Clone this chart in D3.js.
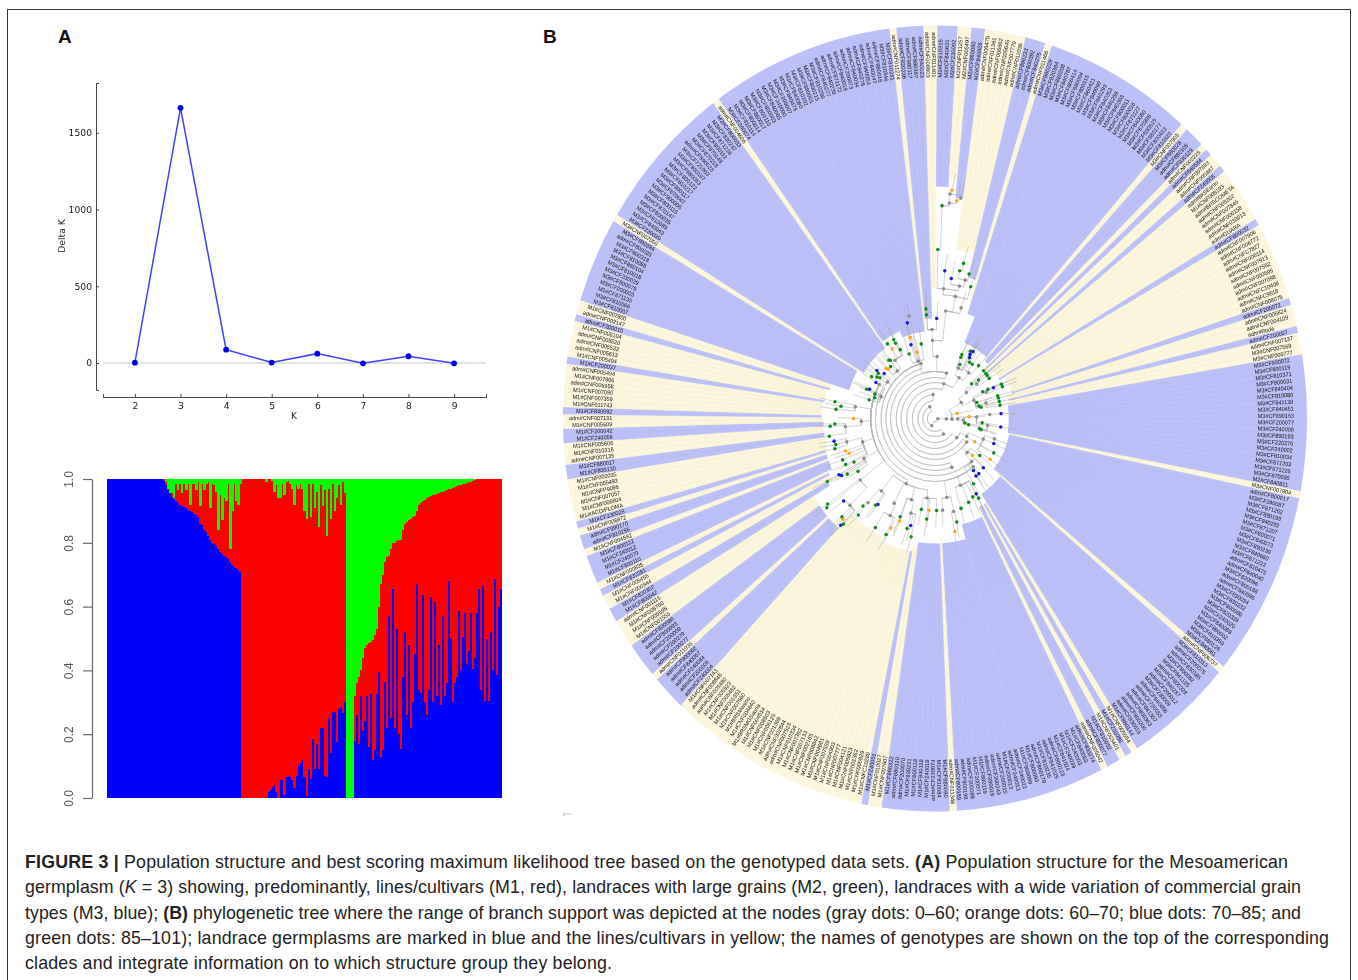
<!DOCTYPE html>
<html>
<head>
<meta charset="utf-8">
<title>Figure 3</title>
<script src="https://cdn.jsdelivr.net/npm/d3@7"></script>
<style>
	html, body { margin: 0; padding: 0; background: #fff; }
	svg { display: block; }
</style>
</head>
<body>
<svg id="fig" width="1358" height="980"></svg>
<script>
// panel A, delta K
var kValues = [2, 3, 4, 5, 6, 7, 8, 9];
var deltaK = [2, 1663, 87, 3, 61, -2, 44, -2];

// panel A, structure plot. one entry per column, top of blue and top of red
var blueTopA = [1,1,1,1,1,1,1,1,1,1,1,1,1,1,1,1,1,1,1,1,1,1,1,1,1,1,1,1,
	.995,.98,.965,.955,.945,.938,.93,.925,.92,.915,.913,.908,.903,.9,.895,.89,.888,.88,.86,.855,
	.84,.835,.82,.81,.8,.795,.79,.78,.77,.765,.76,.755,.75,.74,.73,.725,.72,.715,.71];
var redTopA = [1,1,1,1,1,1,1,1,1,1,1,1,1,1,1,1,1,1,1,1,1,1,1,1,1,1,1,1,
	1,.99,.97,.955,.955,.94,.985,.965,.985,.955,.985,.965,.985,.92,.985,.985,.965,.99,.915,.985,
	.965,.985,.99,.91,.985,.98,.96,.84,.95,.87,.94,.93,.985,.78,.9,.985,.93,.92,.985];
var blueTopB = [0,0,0,0,0,0,0,0,0,0,0,0,0,
	.02,.025,.035,.04,.02,0,.055,.055,.01,.065,.07,.065,.055,.03,.07,.1,.11,.12,.065,.005,
	.09,.06,.185,.09,.17,.09,.22,.22,.07,.065,.25,.14,.27,.27,.175,.28,.285,.265,.3];
var redTopB = [1,1,1,1,1,1,1,1,1,1,1,1,
	.99,1,1,.995,.96,.98,.94,.94,.985,.95,.99,.995,.985,.97,.92,.98,.97,.985,.97,.9,
	.875,.985,.88,.985,.91,.96,.85,.98,.915,.965,.82,.97,.875,.985,.9,.94,.98,.92,.99,.955];
var blueTopC = [0, 0, 0, 0];
var redTopC = [0, 0, 0, 0];
var blueTopD = [.18,.26,.17,.32,.21,.24,.32,.16,.325,.12,.15,.325,.395,.13,.15,.365,.22,.57,.25,.655,
	.22,.53,.2,.155,.38,.52,.26,.48,.22,.3,.45,.67,.34,.33,.635,.3,.26,.34,.63,.3,
	.615,.32,.48,.29,.57,.32,.36,.68,.5,.3,.36,.38,.585,.4,.505,.58,.42,.46,.58,.405,
	.44,.58,.655,.34,.665,.305,.5,.305,.52,.4,.688,.385,.6,.655];
var redTopD = [.32,.36,.38,.4,.44,.47,.48,.485,.49,.495,.51,.53,.6,.67,.7,.74,.755,.76,.78,.8,
	.8,.805,.81,.81,.84,.86,.865,.87,.875,.88,.885,.9,.92,.925,.93,.935,.94,.945,.948,.95,
	.95,.952,.955,.958,.96,.962,.965,.968,.97,.972,.975,.977,.98,.982,.984,.985,.987,.99,.992,.994,
	.997,.999,1,1,1,1,1,1,1,1,1,1,1,1];
var structureTicks = [0, .2, .4, .6, .8, 1];

// panel B, clockwise from the top. Y = lines/cultivars, B = landraces
var cladeType = ["Y","B","Y","B","Y","B","Y","B","Y","B","B","Y","B","Y","B","Y","B","Y","B","Y","B","Y","B","Y","B","Y","B","Y",
	"B","Y","B","Y","B","Y","B","B","Y","B","Y","B","Y","Y","B","Y","B","Y","B","Y","B","Y","B","Y","B","Y","B","Y","B","Y","B","Y","B",
	"Y","B","Y","B","Y","B","Y","B","Y","B","B"];
var cladeInner = [90,100,130,232,240,222,170,145,122,110,82,78,78,72,72,72,72,78,78,85,85,80,80,78,78,80,80,85,
	90,100,100,100,100,100,110,125,120,125,130,135,135,130,150,150,150,150,130,125,125,125,120,120,120,120,120,118,118,118,118,118,120,
	120,118,118,115,115,95,90,88,95,95,88];
var cladeNames = [
	["adm#CNF011274"],
	["adm#CF820236","adm#CF980117","adm#CF880367","adm#CF840023"],
	["adm#CNF008803","adm#CNF011401"],
	["M2#CF810315","M2#CF840631","M2#CF230092"],
	["M2#CNF011257","M2#CNF005497"],
	["M2#CF860060","M2#CF840926"],
	["adm#CNF006475","adm#CNF011361","adm#CNF006662","adm#CNF005645","adm#CNF007770","adm#CNF011036"],
	["adm#CF890233","adm#CF800392","adm#CF840275"],
	["adm#CNF011466"],
	["M3#CF860229","M3#CF820384","M3#CF860208","M3#CF840787"],
	["M3#CF800414","M3#CF880004","M3#CF800315","M3#CF860421","M3#CF840060","M3#CF840293","M3#CF840353","M3#CF840259","M3#CF840363","M3#CF800011","M3#CF800016","M3#CF871127","M3#CF840080","M3#CF870398","M3#CF830515","M3#CF880177","M3#CF800423","M3#CF810320"],
	["M3#CNF007905"],
	["M3#CF880028","adm#CF880105","adm#CF930129"],
	["adm#CNF003225"],
	["adm#CF840584"],
	["adm#CNF007893","adm#CNF005887"],
	["adm#CF240005"],
	["adm#BkSEtinto","M1#CNF008193","adm#BRSCOMETA","adm#CNF008202","adm#CNF007845","adm#CNF000158","adm#CNF010013","adm#GUARA"],
	["adm#CF800032"],
	["adm#CNF007906","adm#CNF006772","adm#CNFC7827","adm#CNF006114","adm#CNF007913","adm#CNF007552","adm#CNF000595","adm#CNF007098","adm#CNFC10408","adm#CNFC9518","adm#CNF008075"],
	["adm#CF200072"],
	["adm#CNF005824","adm#CNF004109","adm#Roda"],
	["adm#CF200007"],
	["adm#CNF007137","M3#CNF007569","M3#CNF006777"],
	["M3#CF930072","M3#CF800119","M3#CF810371","M3#CF800031","M3#CF840404","M3#CF810080","M3#CF841138","M3#CF840451","M3#CF890163","M3#CF200077","M3#CF240008","M3#CF890193","M3#CF220276","M3#CF240002","M3#CF810034","M3#CF871203","M3#CF871226","M3#CF870030","M2#CF840811"],
	["M3#CNF007904"],
	["adm#CF800017","M3#CF240087","M3#CF871262","M3#CF890199","M3#CF840292","M3#CF871207","M3#CF800071","M3#CF840073","M3#CF890239","M3#CF840680","M3#CF871222","adm#CF810472","adm#CF840040","M3#CF820096","adm#CF800188","adm#CF840595","M3#CF830034","M3#CF830232","M3#CF800086","M3#CF820328","M3#CF240020","M3#CF840089","M3#CF880002","M3#CF810350","M3#CF880126","M3#CF840061"],
	["adm#CNF006737"],
	["M3#CF810313","adm#CF200075","adm#CF830185","M3#CF800082","M3#CF841125","adm#CF800328","M3#CF840287","adm#CF200012","M3#CF230009","adm#CF840656","adm#CF720053","adm#CF841307","adm#CF800363","adm#CF800200","adm#CF830015","M1#CF880144"],
	["M1#CNF005054"],
	["M1#CF200086"],
	["M1#CNF003401"],
	["M1#CF810052","adm#CF800077"],
	["adm#CNF005042"],
	["adm#CF800274","M1#CF840063","M1#CF240003","M1#CF240039","M1#CF841024","adm#CF800123","adm#CF841025","M1#CF810235","adm#CF860179","M1#CF800093","M1#CF900099"],
	["adm#CF240022","adm#CF240013","M1#CF200013","adm#CF200015","adm#CF200243","adm#CF280019","M1#CF880119","M1#CF200071","adm#CF200089","adm#CF800198","adm#CF800159"],
	["adm#CNF011348"],
	["M1#CF880090","M1#CF810084","adm#CF230074","M1#CF240018","M1#CF840118","M1#CF800118","M1#CF830231","adm#CF200070","adm#CF880110","M1#CF860322"],
	["M1#CNF007607","M1#CNF010027"],
	["M1#CF240051"],
	["M1#CNFC10280","M1#CNF005929","M1#CNF001362","M1#CNF005923","M1#CNF004121","M1#CNF007777","M1#CNF004903","M1#CNF007559","M1#CNF004681","M1#CNF008842","M1#CNF002165","M1#CNF007133","M1#CNF007392"],
	["M1#CNF010334","adm#CNF007523","adm#CNF002844","M1#CNF001369","M1#CNF006125","M1#CNF008503","M1#CNF004514","M1#BRSMGSauna","M1#CNF004640","M1#BRSMesino","M1#CNF007560","M1#CNF001351","M1#CNF005482","M1#CNF005823","adm#CNF005480","adm#CNF008845","M1#CNF007143"],
	["adm#CF240004","adm#CF200006","adm#CF240084","adm#CF840067","adm#CF800062"],
	["adm#CNF011035"],
	["adm#CF200277","adm#CF200279","adm#CF200009","adm#CF800093","adm#CF800088"],
	["M1#CNF001555","M1#CNF005598","M1#CNF008760","adm#CNF001115"],
	["M1#CF800042","M1#CF820302"],
	["M1#CNF000944","M1#CNF005455"],
	["M1#CF830281"],
	["M1#CNF000835"],
	["M1#CF800110","M1#CF240070","M1#CF240012","M1#CF800112"],
	["M1#CNF004592"],
	["adm#CF810256","adm#CF990170"],
	["M1#CNF006872"],
	["M1#CF230028"],
	["M1#IACDIPLOMA","M1#CNF006604","M1#CNF007057","M1#CNFP9096","M1#CNF005493","M1#CNF002035"],
	["M1#CF800130","M1#CF880017"],
	["adm#CNF007135","M1#CNF010316","M1#CNF005606"],
	["M1#CF240056","M1#CF200042"],
	["M1#CNF005609","adm#CNF007131"],
	["M1#CF840592"],
	["M1#CNF011743","M1#CNF007359","M1#CNF007090","adm#CNF006958","M1#CNF007866","adm#CNF005494"],
	["M1#CF200037"],
	["M1#CNF005494","adm#CNF005613","adm#CNF005533","adm#CNF005520","M1#CNF008104"],
	["adm#CF200010"],
	["adm#CNF002147","M1#CNF007800"],
	["M3#CF810007","M3#CF810066","M1#CF871135","M3#CF200003","M3#CF800079","M3#CF230029","M3#CF810018","M3#CF860104","M3#CF810088","M3#CF800318","adm#CF800025","M3#CF890386"],
	["M3#CNF007050"],
	["M3#CF230030","M3#CF840043","M3#CF810089","M3#CF800035","M3#CF870147","M3#CF800115","M3#CF800006","M3#CF870047","M3#CF800117","M3#CF810217","M3#CF800122","M3#CF880063","M3#CF800197","M3#CF721003","adm#CF890023","M3#CF870218","M3#CF870148","M3#CF800112","M3#CF871226","M3#CF830237","M3#CF800033"],
	["adm#CNF004606"],
	["M3#CF240074","M3#CF810114","M3#CF800014","M3#CF860017","M3#CF800110","M3#CF800003","M3#CF840065","M3#CF240090","M3#CF200007","M3#CF840476","M3#CF840080","M3#CF810102"],
	["M3#CF880001","M3#CF800215","M3#CF810256","adm#CF840277","adm#CF840239","adm#CF871172","adm#CF840019","adm#CF200073","adm#CF840034","adm#CF840278","adm#CF840053","adm#CF840047","adm#CF880016","M3#CF810346","M3#CF810241"]
];

// tree nodes: id, parent, angle (deg, may run past 360), radius, support (k gray, o orange, b blue, g green)
var treeNodes = [
	["s0","",95,3,"k"],["s1","s0",205,8,"k"],["s2","s1",335,13,"k"],["s3","s2",150,18,"k"],["s4","s3",355,24,"k"],
	["s5","s4",130,30,"k"],["s6","s5",375,36,"k"],["s7","s6",125,41,"k"],["s8","s7",375,47,"k"],["s9","s8",160,52,"k"],
	["s10","s9",345,57,"k"],["s11","s10",140,63,"k"],["s12","s11",300,68,"k"],["s13","s12",205,72,"k"],
	// east comb
	["e1","s0",92,12,"k"],["e2","e1",92,18,"k"],["e3","e2",91,24,"k"],["e4","e3",93,30,"k"],["","e2",78,24,"o"],
	["","e3",87,36,"o"],["","e4",98,32,"g"],["","e4",100,36,"g"],["e5","e4",88,44,"k"],["e6","e5",86,58,"k"],
	["","e6",86,70,"b"],["e7","e5",97,56,"k"],["","e7",97,70,"b"],["","e7",102,48,"g"],["","e7",103,50,"g"],
	["","e5",95,50,"g"],
	// north east fan
	["m0","e2",60,32,"k"],["m1","m0",52,42,"k"],["m2","m0",66,45,"k"],
	["","m1",48,52,"g"],["","m1",50,60,"g"],["m3","m1",52,56,"k"],["","m3",47,70,"g"],["","m3",50,70,"g"],["","m3",52,70,"g"],["","m3",55,70,"g"],
	["m4","m2",64,60,"k"],["","m4",64,78,"g"],["","m4",66,78,"g"],["","m4",63.5,69,"b"],["","m4",62.5,63,"g"],["","m2",62,57,"g"],
	["m5","m2",74,56,"k"],["","m5",71,70,"g"],["","m5",73,70,"g"],["","m5",76,70,"g"],["","m5",79,70,"g"],
	["","m2",75,48,"g"],["","m2",70,47,"g"],["","m2",77,50,"g"],
	// north arm
	["a0","s8",362,62,"k"],["a1","a0",358,78,"k"],["a2","a1",358,89,"k"],["","a2",361,100,"b"],["","a2",355,104,"g"],["","a2",355,110,"g"],
	["a6","a1",366,108,"k"],["","a6",374,114,"k"],["a8","a6",370,124,"k"],["","a8",376,137,"g"],["a10","a8",364,130,"k"],
	["a11","a10",371,135,"k"],["","a11",367,141,"b"],["","a10",364,148,"b"],["a14","a11",373,142,"k"],["","a14",374,149,"g"],
	["a16","a14",370,150,"g"],["","a16",371,158,"g"],["a18","a10",361,169,"g"],["a19","a18",362,213,"g"],["a20","a19",364,216,"k"],
	["","a20",366,219,"o"],["a22","a20",364,225,"k"],["","a22",364.5,229,"o"],["","a22",367,222,"k"],
	// north north east
	["n0","s6",392,48,"k"],["n1","n0",386,56,"k"],["","n1",384,70,"g"],["","n1",384,67,"g"],["","n1",389,77,"g"],["","n1",391,78,"b"],["","n1",390,74,"b"],
	["","n1",391,71,"b"],["","n1",386,60,"g"],["n2","n0",398,58,"k"],["","n2",401,70,"g"],["","n2",396,67,"g"],["","n2",393,67,"g"],
	// south east
	["c0","s5",118,38,"k"],["","c0",119,48,"o"],["c1","c0",112,55,"k"],["","c1",112,67,"b"],["","c1",108,66,"k"],["","c1",125,71,"o"],["","c1",119,71,"g"],
	["c2","s7",135,48,"k"],["","c2",133,54,"o"],["","c2",128,60,"g"],["c3","c2",138,58,"k"],["","c3",142,66,"b"],["","c3",140,72,"b"],
	["","c3",143,72,"b"],["","c3",134,71,"b"],["","c3",148,77,"g"],
	// south
	["d0","s11",158,72,"k"],["","d0",153,88,"g"],["","d0",150,87,"b"],["","d0",150,92,"g"],["","d0",157,91,"g"],["","d0",163,94,"g"],
	["d1","s11",171,80,"k"],["d6","d1",168,95,"k"],["","d6",167.5,106,"g"],["","d6",169.5,115,"o"],["","d1",175,92,"k"],
	["d2","s13",186,80,"k"],["","d2",189,92,"g"],["","d2",184,92,"o"],["","d2",185,101,"g"],["","d2",179,92,"g"],
	["d3","s13",197,85,"k"],["d7","d3",195,98,"k"],["","d7",195,114,"g"],["","d7",193.5,110,"b"],["","d7",192,121,"g"],["","d3",200,109,"o"],["","d3",200.5,105,"g"],
	["d4","s13",207,95,"k"],["d8","d4",206,108,"k"],["","d8",210,126,"g"],["","d8",204,127,"g"],["","d8",203,119,"o"],
	["d5","s13",218,92,"k"],["","d5",215,105,"b"],["","d5",216,107,"g"],["d9","d5",220,110,"k"],["","d9",220,126,"g"],["","d9",221,116,"g"],
	// south west
	["w0","s12",232,100,"k"],["w5","w0",226,125,"k"],["","w0",232,145,"g"],["","w0",233,142,"g"],["","w5",229.5,127,"b"],["","w5",224,140,"o"],
	["","w5",225,139,"g"],["","w5",223,146,"b"],["","w5",222.5,143,"g"],
	["w1","s12",242,85,"k"],["","w1",241,116,"b"],["","w1",240,114,"b"],["","w1",239,108,"g"],["","w1",241,130,"g"],["","w1",237,97,"g"],
	["w2","s12",253,80,"k"],["w6","w2",256,96,"k"],["","w6",258,109,"b"],["","w6",256,108,"g"],["","w6",254,110,"g"],["","w2",251,100,"o"],
	["","w2",249,97,"o"],["","w2",247,106,"g"],["","w2",244,105,"g"],["","w2",243,96,"g"],
	["w3","s12",268,78,"k"],["w7","w3",265,95,"k"],["","w7",266,111,"g"],["","w7",267,106,"g"],["","w7",261,113,"g"],["","w3",270,86,"o"],
	["w4","s12",278,85,"k"],["","w4",279,107,"g"],["","w4",277,100,"g"],["","w4",275,105,"g"],
	// north west
	["x0","s10",291,61,"k"],["","x0",288,67,"g"],["","x0",285,72,"g"],["","x0",291,68,"g"],["","x0",292,78,"g"],["","x0",293,75,"b"],["","x0",300,72,"b"],
	["x1","s10",306,62,"k"],["","x1",307,75,"g"],["","x1",308,78,"b"],["","x1",302,79,"g"],["","x1",310,70,"b"],["","x1",304,74,"g"],["","x1",305,71,"g"],
	["x2","s10",320,62,"k"],["x4","x2",324,72,"k"],["","x2",320,76,"g"],["","x2",321,75,"g"],["","x2",318,70,"g"],["","x2",315,70,"o"],["","x2",314,72,"o"],
	["","x4",327,83,"o"],["","x4",326,90,"g"],["","x4",331,90,"g"],["","x4",331,86,"g"],["","x4",332,78,"g"],
	["x3","s8",343,60,"k"],["","x3",344,69,"o"],["","x3",341,78,"b"],["","x3",342,85,"o"],["","x3",343,100,"b"],["","x3",345,106,"k"],["","x3",349,76,"g"],["","x3",337,70,"g"]
];

// caption lines, [text, style] runs
var captionLines = [
	[["FIGURE 3 |","b"],[" Population structure and best scoring maximum likelihood tree based on the genotyped data sets. ",""],["(A)","b"],[" Population structure for the Mesoamerican",""]],
	[["germplasm (",""],["K","i"],[" = 3) showing, predominantly, lines/cultivars (M1, red), landraces with large grains (M2, green), landraces with a wide variation of commercial grain",""]],
	[["types (M3, blue); ",""],["(B)","b"],[" phylogenetic tree where the range of branch support was depicted at the nodes (gray dots: 0\u201360; orange dots: 60\u201370; blue dots: 70\u201385; and",""]],
	[["green dots: 85\u2013101); landrace germplasms are marked in blue and the lines/cultivars in yellow; the names of genotypes are shown on the top of the corresponding",""]],
	[["clades and integrate information on to which structure group they belong.",""]]
];
var captionEnds = [1288, 1301, 1301, 1329, 612];

var svg = d3.select("#fig");
var defs = svg.append("defs");
defs.append("filter").attr("id", "soft")
	.attr("x", "-5%").attr("y", "-5%").attr("width", "110%").attr("height", "110%")
	.append("feGaussianBlur").attr("stdDeviation", 0.75);
defs.append("filter").attr("id", "softer")
	.attr("x", "-5%").attr("y", "-5%").attr("width", "110%").attr("height", "110%")
	.append("feGaussianBlur").attr("stdDeviation", 0.35);

function drawFrame() {
	svg.append("path")
		.attr("d", d3.line()([[7.5, 980], [7.5, 9.5], [1350.5, 9.5], [1350.5, 980]]))
		.attr("fill", "none")
		.attr("stroke", "#333")
		.attr("stroke-width", 1);

	svg.selectAll("text.letter")
		.data([["A", 58], ["B", 543]])
		.enter().append("text")
		.attr("class", "letter")
		.attr("x", function(d) { return d[1]; })
		.attr("y", 43)
		.attr("font-family", "Liberation Sans")
		.attr("font-weight", "bold")
		.attr("font-size", 19)
		.attr("fill", "#111")
		.text(function(d) { return d[0]; });
}

function drawDeltaK() {
	var g = svg.append("g").attr("filter", "url(#softer)");
	var x = d3.scaleLinear().domain([1.3, 9.7]).range([103, 486]);
	var y = d3.scaleLinear().domain([-176, 1825]).range([390, 83]);

	g.append("line")
		.attr("x1", x.range()[0]).attr("x2", x.range()[1])
		.attr("y1", y(0)).attr("y2", y(0))
		.attr("stroke", "#e2e2e2")
		.attr("stroke-width", 2);

	var ax = g.append("g")
		.attr("transform", "translate(0,397)")
		.call(d3.axisBottom(x).tickValues(kValues).tickSize(-3).tickPadding(5).tickFormat(d3.format("d")));
	var ay = g.append("g")
		.attr("transform", "translate(96,0)")
		.call(d3.axisLeft(y).tickValues([0, 500, 1000, 1500]).tickSize(-3).tickPadding(4).tickFormat(d3.format("d")));
	[ax, ay].forEach(function(a) {
		a.selectAll("path, line").attr("stroke", "#444");
		a.selectAll("text").attr("font-family", "DejaVu Sans").attr("font-size", 9.2).attr("fill", "#222");
	});

	var pts = kValues.map(function(k, i) { return [k, deltaK[i]]; });
	g.append("path")
		.datum(pts)
		.attr("fill", "none")
		.attr("stroke", "#4040ff")
		.attr("stroke-width", 1.5)
		.attr("d", d3.line().x(function(d) { return x(d[0]); }).y(function(d) { return y(d[1]); }));
	g.selectAll("circle")
		.data(pts)
		.enter().append("circle")
		.attr("cx", function(d) { return x(d[0]); })
		.attr("cy", function(d) { return y(d[1]); })
		.attr("r", 2.9)
		.attr("fill", "#0000ee");

	g.append("text")
		.attr("x", 294).attr("y", 419)
		.attr("text-anchor", "middle")
		.attr("font-family", "DejaVu Sans").attr("font-size", 9.2).attr("fill", "#222")
		.text("K");
	g.append("text")
		.attr("transform", "translate(65,236) rotate(-90)")
		.attr("text-anchor", "middle")
		.attr("font-family", "DejaVu Sans").attr("font-size", 9.2).attr("fill", "#222")
		.text("Delta K");
}

function drawStructure() {
	var blueTop = blueTopA.concat(blueTopB, blueTopC, blueTopD);
	var redTop = redTopA.concat(redTopB, redTopC, redTopD);
	var columns = blueTop.map(function(b, i) {
		return {i: i, blue: b, red: redTop[i] - b, green: 1 - redTop[i]};
	});
	var x = d3.scaleBand().domain(d3.range(columns.length)).range([107, 502]);
	var y = d3.scaleLinear().domain([0, 1]).range([798, 479]);
	var colors = {blue: "#0000ff", red: "#ff0000", green: "#00ff00"};
	var series = d3.stack().keys(["blue", "red", "green"])(columns);

	var g = svg.append("g").attr("filter", "url(#soft)");
	g.selectAll("g")
		.data(series)
		.enter().append("g")
		.attr("fill", function(d) { return colors[d.key]; })
		.selectAll("rect")
		.data(function(d) { return d; })
		.enter().append("rect")
		.attr("shape-rendering", "crispEdges")
		.attr("x", function(d) { return x(d.data.i); })
		.attr("width", x.bandwidth() + 0.3)
		.attr("y", function(d) { return y(d[1]); })
		.attr("height", function(d) { return Math.max(0, y(d[0]) - y(d[1])); });

	var ax = svg.append("g")
		.attr("transform", "translate(92,0)")
		.attr("filter", "url(#softer)")
		.call(d3.axisLeft(y).tickValues(structureTicks).tickSize(9).tickSizeOuter(0).tickFormat(d3.format(".1f")));
	ax.selectAll("path, line").attr("stroke", "#666").attr("stroke-width", 1.2);
	ax.selectAll("text")
		.attr("font-family", "Liberation Sans").attr("font-size", 12).attr("fill", "#555")
		.attr("text-anchor", "middle")
		.attr("transform", "translate(-22,0) rotate(-90) translate(0,3)")
		.attr("x", 0).attr("dy", 0);
}

function drawTree() {
	var outerR = 393, labelR = 341;
	var ring = svg.append("g")
		.attr("transform", "translate(935,418.5) scale(0.9466,1)");
	var n = d3.sum(cladeNames, function(d) { return d.length; });
	var leafAngle = d3.scaleLinear().domain([0, n]).range([-7.03, 352.97]);
	var rad = d3.scaleLinear().domain([0, 360]).range([0, 2 * Math.PI]);
	var colors = {Y: "#fcf6dc", B: "#bcc0f9"};
	var arc = d3.arc();

	var clades = [], leaves = [], at = 0;
	cladeNames.forEach(function(names, i) {
		clades.push({type: cladeType[i], inner: cladeInner[i], from: at, to: at + names.length});
		names.forEach(function(name) {
			leaves.push({name: name, angle: leafAngle(at + 0.5), inner: cladeInner[i], type: cladeType[i], edge: leafAngle(at)});
			at++;
		});
	});

	var wedges = ring.append("g");
	wedges.selectAll("path")
		.data(clades)
		.enter().append("path")
		.attr("fill", function(d) { return colors[d.type]; })
		.attr("d", function(d) {
			return arc({innerRadius: d.inner, outerRadius: outerR,
				startAngle: rad(leafAngle(d.from)), endAngle: rad(leafAngle(d.to))});
		});

	// faint leaf separators
	wedges.selectAll("line")
		.data(leaves)
		.enter().append("line")
		.attr("x1", function(d) { return d3.pointRadial(rad(d.edge), d.inner)[0]; })
		.attr("y1", function(d) { return d3.pointRadial(rad(d.edge), d.inner)[1]; })
		.attr("x2", function(d) { return d3.pointRadial(rad(d.edge), labelR)[0]; })
		.attr("y2", function(d) { return d3.pointRadial(rad(d.edge), labelR)[1]; })
		.attr("stroke", function(d) { return d.type == "B" ? "#b3b7f2" : "#f0eacd"; })
		.attr("stroke-width", 0.5);

	ring.append("g")
		.attr("filter", "url(#softer)")
		.selectAll("text")
		.data(leaves)
		.enter().append("text")
		.attr("transform", function(d) {
			if (d.angle > 0 && d.angle < 180) {
				return "rotate(" + (d.angle - 90) + ") translate(" + labelR + ",0)";
			}
			return "rotate(" + (d.angle + 90) + ") translate(" + (-labelR) + ",0)";
		})
		.attr("text-anchor", function(d) { return d.angle > 0 && d.angle < 180 ? "start" : "end"; })
		.attr("dy", "0.35em")
		.attr("font-family", "Liberation Sans")
		.attr("font-size", 5.8)
		.attr("fill", "#111")
		.text(function(d) { return d.name; });

	// tree
	var byId = d3.index(treeNodes.filter(function(d) { return d[0]; }), function(d) { return d[0]; });
	var hasChild = {};
	treeNodes.forEach(function(d) { if (d[1]) hasChild[d[1]] = true; });

	var tree = ring.append("g").attr("filter", "url(#softer)");
	var branches = [];
	treeNodes.forEach(function(d) {
		if (!d[1]) return;
		var p = byId.get(d[1]);
		branches.push(arc({innerRadius: p[3], outerRadius: p[3], startAngle: rad(p[2]), endAngle: rad(d[2])}));
		branches.push(d3.line()([d3.pointRadial(rad(d[2]), p[3]), d3.pointRadial(rad(d[2]), d[3])]));
	});
	tree.selectAll("path.branch")
		.data(branches)
		.enter().append("path")
		.attr("class", "branch")
		.attr("fill", "none")
		.attr("stroke", "#b4b4b4")
		.attr("stroke-width", 0.6)
		.attr("d", function(d) { return d; });

	// short fans behind the tips
	var tips = treeNodes.filter(function(d) { return !d[0] || !hasChild[d[0]]; });
	tree.selectAll("line")
		.data(tips)
		.enter().append("line")
		.attr("x1", function(d) { return d3.pointRadial(rad(d[2]), d[3])[0]; })
		.attr("y1", function(d) { return d3.pointRadial(rad(d[2]), d[3])[1]; })
		.attr("x2", function(d) { return d3.pointRadial(rad(d[2] + 0.6), d[3] + 17)[0]; })
		.attr("y2", function(d) { return d3.pointRadial(rad(d[2] + 0.6), d[3] + 17)[1]; })
		.attr("stroke", "#a8a89a")
		.attr("stroke-width", 0.5);

	var support = {k: "#8c8c8c", o: "#ffa41c", b: "#1414e0", g: "#0d8a1f"};
	tree.selectAll("circle")
		.data(treeNodes)
		.enter().append("circle")
		.attr("cx", function(d) { return d3.pointRadial(rad(d[2]), d[3])[0]; })
		.attr("cy", function(d) { return d3.pointRadial(rad(d[2]), d[3])[1]; })
		.attr("r", 1.8)
		.attr("fill", function(d) { return support[d[4]]; });

	// tiny scale bar under the tree
	svg.append("path")
		.attr("d", d3.line()([[564, 812], [564, 816], [564, 814], [572, 814]]))
		.attr("fill", "none")
		.attr("stroke", "#aaa")
		.attr("stroke-width", 0.6);
}

function drawCaption() {
	var text = svg.selectAll("text.caption")
		.data(captionLines)
		.enter().append("text")
		.attr("class", "caption")
		.attr("x", 25)
		.attr("y", function(d, i) { return 868 + i * 25.25; })
		.attr("font-family", "Liberation Sans")
		.attr("font-size", 17.8)
		.attr("fill", "#222")
		.attr("textLength", function(d, i) { return captionEnds[i] - 25; })
		.attr("lengthAdjust", "spacing");
	text.selectAll("tspan")
		.data(function(d) { return d; })
		.enter().append("tspan")
		.attr("font-weight", function(d) { return d[1] == "b" ? "bold" : null; })
		.attr("font-style", function(d) { return d[1] == "i" ? "italic" : null; })
		.text(function(d) { return d[0]; });
}

drawFrame();
drawDeltaK();
drawStructure();
drawTree();
drawCaption();
</script>
</body>
</html>
